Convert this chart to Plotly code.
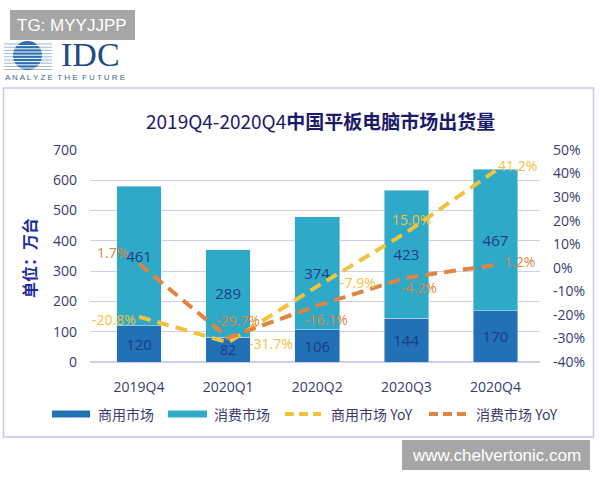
import plotly.graph_objects as go

# ---- data ----
categories = ["2019Q4", "2020Q1", "2020Q2", "2020Q3", "2020Q4"]
commercial = [120, 82, 106, 144, 170]
consumer = [461, 289, 374, 423, 467]
commercial_yoy = [-0.208, -0.317, -0.079, 0.150, 0.412]
consumer_yoy = [0.017, -0.297, -0.161, -0.042, 0.012]
left_ticks = [0, 100, 200, 300, 400, 500, 600, 700]
right_tickvals = [-0.4, -0.3, -0.2, -0.1, 0.0, 0.1, 0.2, 0.3, 0.4, 0.5]
right_ticktext = ["-40%", "-30%", "-20%", "-10%", "0%", "10%", "20%", "30%", "40%", "50%"]
series_names = ["商用市场", "消费市场", "商用市场 YoY", "消费市场 YoY"]

# ---- styles ----
W, H = 600, 480
C_COM = "#2270b6"
C_CON = "#2fa9c8"
C_YEL = "#efc43c"
C_ORA = "#df8441"
C_GRID = "#cfcdef"
C_TICK = "#3b3a70"
C_LAB = "#1d3c86"
FONT = "Open Sans, Noto Sans CJK SC, sans-serif"

def px(x):
    return x / W

def py(y):
    return 1 - y / H

fig = go.Figure()

fig.add_trace(go.Bar(
    x=categories, y=commercial, name=series_names[0], marker_color=C_COM,
    width=0.5, text=[str(v) for v in commercial], textposition="inside",
    insidetextanchor="middle", textangle=0,
    textfont=dict(color=C_LAB, size=15, family=FONT), yaxis="y",
))
fig.add_trace(go.Bar(
    x=categories, y=consumer, name=series_names[1], marker_color=C_CON,
    width=0.5, text=[str(v) for v in consumer], textposition="inside",
    insidetextanchor="middle", textangle=0,
    textfont=dict(color=C_LAB, size=15, family=FONT), yaxis="y",
))
fig.add_trace(go.Scatter(
    x=categories, y=commercial_yoy, name=series_names[2], mode="lines",
    line=dict(color=C_YEL, width=4, dash="12px,7px"), yaxis="y2", cliponaxis=False,
))
fig.add_trace(go.Scatter(
    x=categories, y=consumer_yoy, name=series_names[3], mode="lines",
    line=dict(color=C_ORA, width=4, dash="12px,7px"), yaxis="y2", cliponaxis=False,
))

annotations = []

def paper_text(x, y, text, font, xanchor="center", yanchor="middle", **kw):
    d = dict(x=px(x), y=py(y), xref="paper", yref="paper", showarrow=False,
             xanchor=xanchor, yanchor=yanchor, text=text, font=font)
    d.update(kw)
    annotations.append(d)

# YoY data labels (pixel offsets from each point)
yel_shift = [(-25, -3), (43, -1), (41, 4), (5, 13), (22, 5)]
ora_shift = [(-27, 11), (10, 17), (9, -14), (13, -10), (24, 3)]
for i, c in enumerate(categories):
    annotations.append(dict(
        x=c, y=commercial_yoy[i], xref="x", yref="y2", xanchor="center", yanchor="middle",
        text=f"{commercial_yoy[i]*100:.1f}%", showarrow=False,
        xshift=yel_shift[i][0], yshift=yel_shift[i][1],
        font=dict(color=C_YEL, size=14, family=FONT),
    ))
    annotations.append(dict(
        x=c, y=consumer_yoy[i], xref="x", yref="y2", xanchor="center", yanchor="middle",
        text=f"{consumer_yoy[i]*100:.1f}%", showarrow=False,
        xshift=ora_shift[i][0], yshift=ora_shift[i][1],
        font=dict(color=C_ORA, size=14, family=FONT),
    ))

# title
paper_text(320, 120, "2019Q4-2020Q4<b>中国平板电脑市场出货量</b>",
           dict(color="#1c1a6b", size=19, family="Noto Sans CJK SC, sans-serif"))
# y-axis title
paper_text(29, 258, "<b>单位：万台</b>",
           dict(color="#1e2a9c", size=16, family="Noto Sans CJK SC, sans-serif"), textangle=-90)
# header boxes / logo text
paper_text(72, 25, "TG: MYYJJPP", dict(color="white", size=17, family="Liberation Sans, sans-serif"))
paper_text(90, 54, "IDC", dict(color="#1f4a85", size=34, family="Liberation Serif, serif"))
paper_text(3, 78, "A N A L Y Z E  T H E  F U T U R E",
           dict(color="#3a6896", size=8, family="Liberation Sans, sans-serif"), xanchor="left")
paper_text(496, 455, "www.chelvertonic.com", dict(color="white", size=17, family="Liberation Sans, sans-serif"))

shapes = []
# frame
shapes.append(dict(type="rect", xref="paper", yref="paper", x0=px(3.5), x1=px(593.5),
                   y0=py(437), y1=py(88), line=dict(color="#c9c5ec", width=1.5), layer="below"))
# TG box
shapes.append(dict(type="rect", xref="paper", yref="paper", x0=px(10), x1=px(135),
                   y0=py(40), y1=py(10), fillcolor="#a6a6a6", line=dict(width=0), layer="below"))
# watermark box
shapes.append(dict(type="rect", xref="paper", yref="paper", x0=px(402), x1=px(590),
                   y0=py(470), y1=py(440), fillcolor="#a6a6a6", line=dict(width=0), layer="below"))
# IDC logo stripes and globe
for k in range(9):
    yy = 44 + k * 3.2
    shapes.append(dict(type="line", xref="paper", yref="paper", x0=px(4), x1=px(52),
                       y0=py(yy), y1=py(yy), line=dict(color="#9db6cf", width=1)))
shapes.append(dict(type="circle", xref="paper", yref="paper", x0=px(13), x1=px(42),
                   y0=py(70), y1=py(41), fillcolor="#2f6fae", line=dict(width=0)))
for k in range(9):
    yy = 44 + k * 3.2
    shapes.append(dict(type="line", xref="paper", yref="paper", x0=px(12), x1=px(43),
                       y0=py(yy + 1.6), y1=py(yy + 1.6), line=dict(color="white", width=1)))

# custom legend
leg_y = 414
shapes.append(dict(type="rect", xref="paper", yref="paper", x0=px(52), x1=px(90),
                   y0=py(leg_y + 3.5), y1=py(leg_y - 3.5), fillcolor=C_COM, line=dict(width=0)))
shapes.append(dict(type="rect", xref="paper", yref="paper", x0=px(168), x1=px(207),
                   y0=py(leg_y + 3.5), y1=py(leg_y - 3.5), fillcolor=C_CON, line=dict(width=0)))
shapes.append(dict(type="line", xref="paper", yref="paper", x0=px(285), x1=px(321),
                   y0=py(leg_y), y1=py(leg_y), line=dict(color=C_YEL, width=4, dash="9px,5px")))
shapes.append(dict(type="line", xref="paper", yref="paper", x0=px(429), x1=px(469),
                   y0=py(leg_y), y1=py(leg_y), line=dict(color=C_ORA, width=4, dash="9px,5px")))
for name, lx in zip(series_names, [96, 212, 329, 474]):
    paper_text(lx, leg_y, name, dict(color=C_TICK, size=14, family="Noto Sans CJK SC, sans-serif"),
               xanchor="left")

fig.update_layout(
    width=W, height=H, margin=dict(l=0, r=0, t=0, b=0, pad=0),
    paper_bgcolor="white", plot_bgcolor="white",
    barmode="stack", showlegend=False,
    font=dict(family=FONT, color=C_TICK),
    xaxis=dict(domain=[px(90), px(540)], showgrid=False, showline=True, linecolor=C_GRID,
               linewidth=1, ticks="", tickfont=dict(size=14, color=C_TICK),
               ticklabelstandoff=12, automargin=False),
    yaxis=dict(domain=[py(362), py(150)], range=[0, 700], tickmode="array",
               tickvals=left_ticks, showgrid=True, gridcolor=C_GRID, gridwidth=1,
               zeroline=True, zerolinecolor=C_GRID, showline=False, ticks="",
               tickfont=dict(size=14, color=C_TICK), ticklabelstandoff=12, automargin=False),
    yaxis2=dict(domain=[py(362), py(150)], overlaying="y", side="right", range=[-0.4, 0.5],
                tickmode="array", tickvals=right_tickvals, ticktext=right_ticktext,
                showgrid=False, zeroline=False, showline=False, ticks="",
                tickfont=dict(size=14, color=C_TICK), ticklabelstandoff=12, automargin=False),
    annotations=annotations, shapes=shapes,
)

fig.write_html("out.html")
